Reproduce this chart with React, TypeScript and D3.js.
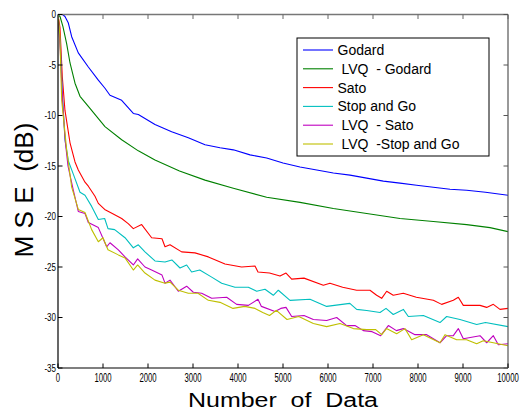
import React from 'react'
import * as d3 from 'd3'

// MSE learning curves
const seriesNames = ['Godard', ' LVQ  - Godard', 'Sato', 'Stop and Go', ' LVQ  - Sato', ' LVQ  -Stop and Go']
const seriesColors = ['#0000ff', '#008000', '#ff0000', '#00bfbf', '#bf00bf', '#bfbf00']

const xTicks = [0, 1000, 2000, 3000, 4000, 5000, 6000, 7000, 8000, 9000, 10000]
const yTicks = [0, -5, -10, -15, -20, -25, -30, -35]

const godard: [number, number][] = [
  [0, 0], [100, 0], [155, -0.2], [230, -0.85], [304, -2.2], [451, -3.8], [674, -5.2], [896, -6.5],
  [1044, -7.3], [1155, -8.0], [1415, -8.5], [1674, -9.8], [1785, -9.9], [2155, -10.9], [2526, -11.6],
  [2896, -12.2], [3267, -12.9], [3600, -13.2], [3896, -13.4], [4267, -13.9], [4637, -14.2], [5000, -14.7],
  [5378, -15.1], [5750, -15.4], [6119, -15.7], [6489, -15.9], [6860, -16.2], [7230, -16.5], [7600, -16.7],
  [7970, -16.9], [8341, -17.1], [8711, -17.3], [9082, -17.4], [9500, -17.6], [10000, -17.9],
]

const lvqGodard: [number, number][] = [
  [0, 0], [45, -0.2], [110, -1.2], [193, -2.9], [267, -4.8], [378, -6.8], [489, -8.1], [674, -9.1],
  [1044, -11.1], [1415, -12.4], [1785, -13.5], [2155, -14.4], [2700, -15.5], [3267, -16.4], [3896, -17.2],
  [4637, -18.1], [5378, -18.6], [6119, -19.2], [6860, -19.7], [7600, -20.2], [8341, -20.5], [9082, -20.8],
  [9600, -21.1], [10000, -21.5],
]

const sato: [number, number][] = [
  [0, 0], [44, -1.3], [96, -6.2], [155, -9.5], [267, -12.7], [378, -14.6], [451, -15.4], [600, -16.6],
  [674, -17.0], [822, -18.0], [896, -18.7], [1037, -19.3], [1207, -19.7], [1415, -20.2], [1560, -20.7],
  [1674, -21.2], [1859, -20.8], [2081, -22.1], [2311, -22.2], [2378, -23.0], [2489, -22.8], [2748, -23.5],
  [3044, -23.6], [3341, -24.0], [3711, -24.7], [4081, -25.0], [4378, -24.9], [4444, -25.5], [4700, -25.6],
  [4933, -25.9], [5067, -25.6], [5193, -26.2], [5467, -26.1], [5896, -26.8], [6044, -26.6], [6326, -27.0],
  [6637, -27.3], [6933, -27.3], [7081, -27.8], [7193, -28.1], [7304, -27.4], [7450, -27.8], [7674, -27.6],
  [7963, -28.0], [8341, -28.3], [8526, -28.7], [8785, -28.3], [8896, -28.0], [9007, -28.8], [9378, -28.8],
  [9526, -29.0], [9674, -28.7], [9822, -29.2], [10000, -29.1],
]

const stopAndGo: [number, number][] = [
  [0, 0], [50, -3.0], [100, -8.0], [155, -12.4], [230, -14.5], [340, -15.8], [489, -17.6], [600, -17.9],
  [748, -19.0], [896, -20.3], [1037, -20.2], [1111, -21.2], [1259, -21.3], [1489, -22.1], [1674, -23.1],
  [1785, -22.8], [1933, -23.5], [2155, -24.4], [2378, -24.5], [2530, -24.3], [2711, -25.1], [2859, -24.8],
  [2970, -25.5], [3150, -25.3], [3415, -26.0], [3637, -26.6], [3933, -27.0], [4230, -27.0], [4415, -27.4],
  [4600, -27.2], [4785, -27.8], [4896, -27.3], [5156, -28.3], [5600, -28.2], [5970, -28.9], [6485, -28.6],
  [6637, -29.2], [6860, -29.3], [7156, -29.5], [7289, -29.1], [7450, -29.7], [7674, -29.2], [7785, -29.9],
  [8119, -29.8], [8489, -30.5], [8637, -29.9], [8933, -30.2], [9304, -30.7], [9500, -30.5], [10000, -30.9],
]

const lvqSato: [number, number][] = [
  [0, 0], [50, -3.5], [100, -8.5], [160, -12.5], [222, -15.0], [340, -17.4], [451, -19.5], [600, -19.7],
  [674, -20.6], [896, -21.1], [1081, -23.0], [1155, -22.6], [1341, -23.3], [1489, -24.0], [1674, -24.8],
  [1770, -24.2], [1933, -25.0], [2081, -25.3], [2311, -25.8], [2378, -26.6], [2489, -26.3], [2674, -27.4],
  [2859, -26.9], [3007, -27.5], [3193, -27.6], [3415, -28.1], [3748, -28.0], [3970, -28.7], [4230, -28.8],
  [4444, -28.2], [4520, -28.9], [4822, -29.4], [4950, -29.1], [5067, -29.0], [5193, -29.9], [5467, -29.8],
  [5674, -30.2], [5970, -30.3], [6193, -30.0], [6415, -30.8], [6600, -30.8], [6785, -31.3], [6980, -31.4],
  [7170, -31.8], [7341, -30.8], [7520, -31.3], [7674, -31.1], [7933, -31.7], [8193, -31.7], [8489, -32.5],
  [8637, -31.8], [8785, -31.8], [8896, -31.1], [9007, -32.1], [9378, -31.8], [9526, -32.5], [9674, -31.8],
  [9785, -32.7], [10000, -32.6],
]

const lvqStopAndGo: [number, number][] = [
  [0, 0], [40, -2.0], [82, -8.5], [193, -13.4], [304, -17.1], [451, -19.3], [600, -19.6], [748, -21.3],
  [896, -22.5], [1000, -22.1], [1111, -23.3], [1341, -23.8], [1489, -24.1], [1674, -25.3], [1770, -24.8],
  [1933, -25.6], [2155, -26.3], [2378, -26.6], [2489, -26.5], [2674, -27.3], [2896, -27.6], [3111, -27.6],
  [3341, -28.3], [3600, -28.5], [3889, -29.1], [4150, -28.9], [4378, -29.1], [4550, -29.5], [4700, -29.8],
  [4852, -29.3], [5089, -30.2], [5350, -29.9], [5674, -30.6], [5970, -30.9], [6267, -30.6], [6563, -31.1],
  [6860, -31.2], [7060, -31.2], [7193, -31.7], [7300, -31.1], [7526, -31.6], [7711, -31.1], [7859, -32.2],
  [8119, -31.7], [8489, -32.5], [8600, -31.7], [8859, -32.2], [9080, -32.2], [9304, -32.6], [9450, -32.3],
  [9674, -32.5], [10000, -32.8],
]

const allSeries = [godard, lvqGodard, sato, stopAndGo, lvqSato, lvqStopAndGo]

const W = 520
const H = 414
const left = 58
const right = 508
const top = 14.5
const bottom = 368
const font = 'Arial, "Liberation Sans", sans-serif'

export default function App() {
  const x = d3.scaleLinear().domain([0, 10000]).range([left, right])
  const y = d3.scaleLinear().domain([-35, 0]).range([bottom, top])
  const line = d3.line<[number, number]>().x(d => x(d[0])).y(d => y(d[1]))
  const tick = 4.5

  return (
    <svg width={W} height={H} style={{ position: 'absolute', left: 0, top: 0, background: '#fff' }}>
      <defs>
        <clipPath id="plot">
          <rect x={left} y={top} width={right - left} height={bottom - top} />
        </clipPath>
      </defs>

      {/* curves */}
      <g clipPath="url(#plot)">
        {allSeries.map((s, i) => (
          <path key={i} d={line(s) || ''} fill="none" stroke={seriesColors[i]} strokeWidth={1.1} strokeLinejoin="round" />
        ))}
      </g>

      {/* box */}
      <line x1={left} x2={right} y1={top} y2={top} stroke="#777" strokeWidth={1.5} />
      <line x1={right} x2={right} y1={top} y2={bottom} stroke="#555" strokeWidth={1.2} />
      <line x1={left} x2={left} y1={top} y2={bottom} stroke="#000" strokeWidth={1.2} />
      <line x1={left} x2={right} y1={bottom} y2={bottom} stroke="#000" strokeWidth={1.2} />

      {/* x ticks */}
      {xTicks.map(t => (
        <g key={'x' + t}>
          <line x1={x(t)} x2={x(t)} y1={bottom} y2={bottom - tick} stroke="#000" />
          <line x1={x(t)} x2={x(t)} y1={top} y2={top + tick} stroke="#666" />
          <text x={x(t)} y={382} textAnchor="middle" fontFamily={font} fontSize={12}
            textLength={String(t).length * 4.3} lengthAdjust="spacingAndGlyphs" fill="#000">{t}</text>
        </g>
      ))}

      {/* y ticks */}
      {yTicks.map(t => (
        <g key={'y' + t}>
          <line x1={left} x2={left + tick} y1={y(t)} y2={y(t)} stroke="#000" />
          <line x1={right} x2={right - tick} y1={y(t)} y2={y(t)} stroke="#555" />
          <text x={56} y={y(t) + 3.8} textAnchor="end" fontFamily={font} fontSize={11}
            textLength={t === 0 ? 4.5 : String(Math.abs(t)).length * 4.3 + 3} lengthAdjust="spacingAndGlyphs" fill="#000">{t}</text>
        </g>
      ))}

      {/* axis labels */}
      <text x={283} y={407} textAnchor="middle" fontFamily={font} fontSize={20}
        textLength={190} lengthAdjust="spacingAndGlyphs" fill="#000" style={{ whiteSpace: 'pre' }}>Number  of  Data</text>
      <text transform={`translate(33,190) rotate(-90)`} textAnchor="middle" fontFamily={font} fontSize={26}
        textLength={135} lengthAdjust="spacingAndGlyphs" fill="#000" style={{ whiteSpace: 'pre' }}>M S E  (dB)</text>

      {/* legend */}
      <rect x={297} y={38} width={192} height={118} fill="#fff" stroke="#000" strokeWidth={1} />
      {seriesNames.map((name, i) => {
        const ly = 50 + i * 18.8
        return (
          <g key={name}>
            <line x1={303} x2={333} y1={ly} y2={ly} stroke={seriesColors[i]} strokeWidth={1.1} />
            <text x={337.5} y={ly + 5} fontFamily={font} fontSize={14} fill="#000" style={{ whiteSpace: 'pre' }}>{name}</text>
          </g>
        )
      })}
    </svg>
  )
}
